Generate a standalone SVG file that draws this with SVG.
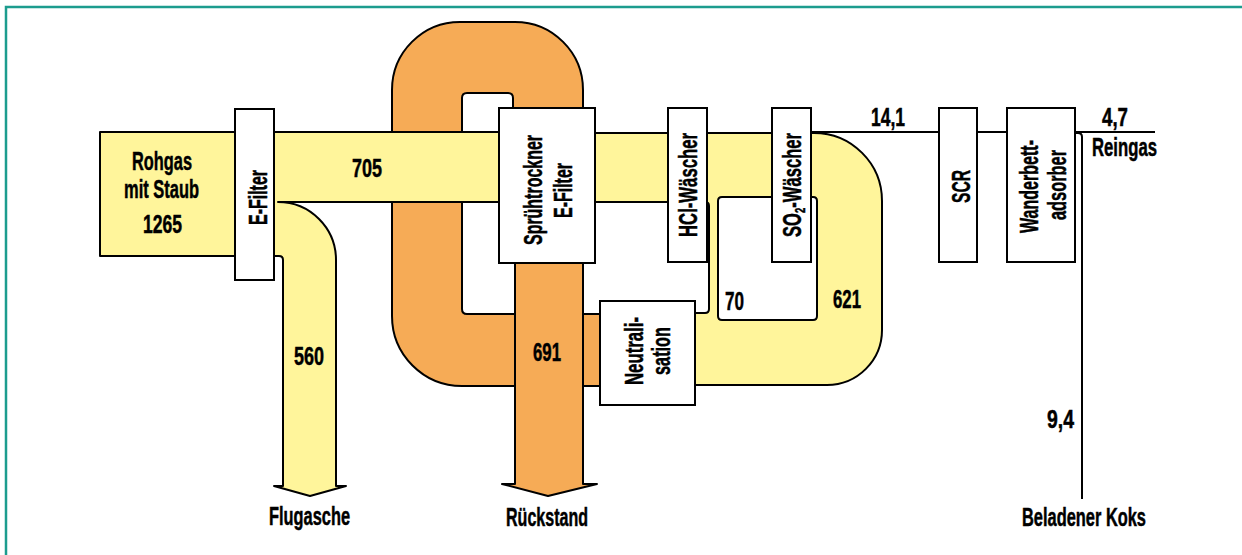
<svg xmlns="http://www.w3.org/2000/svg" width="1242" height="555" viewBox="0 0 1242 555">
<style>
.t{font-family:"Liberation Sans",Arial,sans-serif;font-weight:bold;font-size:26px;fill:#000;stroke:#000;stroke-width:0.5}
.box{fill:#fff;stroke:#000;stroke-width:2}
.y{fill:#FFF59B;stroke:#000;stroke-width:2;stroke-linejoin:round}
.o{fill:#F6AB56;stroke:#000;stroke-width:2;stroke-linejoin:round}
.ln{fill:none;stroke:#000;stroke-width:2}
</style>
<rect width="1242" height="555" fill="#fff"/>
<path d="M1242,7 H6 V555" fill="none" stroke="#1C9C8E" stroke-width="2.5"/>
<g id="connectors">
  <path id="orange-loop" class="o" d="M600,314 H467 Q462,314 462,309 V98 Q462,93 467,93 H508 Q513,93 513,98 V108 H583 V90 A68,68 0 0 0 515,22 H460 A68,68 0 0 0 392,90 V316 A70,70 0 0 0 462,386 H600 Z"/>
  <path id="rueckstand-flow" class="o" d="M515,262 V484 H502 L548,496 L597,484 H583 V262 Z"/>
  <path id="rohgas-flow" class="y" d="M100,132 H502 V202 H278 A58,58 0 0 1 336,260 V486 H346 L310,496 L274,486 H283 V260 Q283,256 279,256 H100 Z"/>
  <path id="gas-flow" class="y" fill-rule="evenodd" d="M590,133 H814 A68,68 0 0 1 882,201 V330 A55,55 0 0 1 827,385 H690 V313 H705 Q709,313 709,309 V206 Q709,202 705,202 H590 Z M718,201 Q718,197 722,197 H813 Q817,197 817,201 V316 Q817,320 813,320 H722 Q718,320 718,316 Z"/>
  <path id="clean-line" class="ln" d="M811,132 H1155"/>
  <path id="koks-line" class="ln" d="M1075,133 H1078 Q1082,133 1082,137 V499"/>
</g>
<g id="rohgas">
  <text class="t" x="132" y="170" textLength="60" lengthAdjust="spacingAndGlyphs">Rohgas</text>
  <text class="t" x="124" y="198" textLength="75" lengthAdjust="spacingAndGlyphs">mit Staub</text>
  <text class="t" x="143" y="233" textLength="39" lengthAdjust="spacingAndGlyphs">1265</text>
</g>
<g id="efilter1">
  <rect class="box" x="235" y="109" width="39" height="171"/>
  <text class="t" transform="translate(267,197.5) rotate(-90)" text-anchor="middle" textLength="55" lengthAdjust="spacingAndGlyphs">E-Filter</text>
</g>
<g id="spruehtrockner">
  <rect class="box" x="499" y="108" width="96" height="155"/>
  <text class="t" transform="translate(542,190) rotate(-90)" text-anchor="middle" textLength="110" lengthAdjust="spacingAndGlyphs">Sprühtrockner</text>
  <text class="t" transform="translate(572,190.5) rotate(-90)" text-anchor="middle" textLength="55" lengthAdjust="spacingAndGlyphs">E-Filter</text>
</g>
<g id="hcl">
  <rect class="box" x="668" y="108" width="39" height="154"/>
  <text class="t" transform="translate(697,185) rotate(-90)" text-anchor="middle" textLength="104" lengthAdjust="spacingAndGlyphs">HCl-Wäscher</text>
</g>
<g id="so2">
  <rect class="box" x="772" y="108" width="39" height="154"/>
  <text class="t" transform="translate(801,185) rotate(-90)" text-anchor="middle" textLength="104" lengthAdjust="spacingAndGlyphs">SO<tspan font-size="15" dy="4">2</tspan><tspan dy="-4">-Wäscher</tspan></text>
</g>
<g id="neutralisation">
  <rect class="box" x="600" y="301" width="95" height="104"/>
  <text class="t" transform="translate(643,351) rotate(-90)" text-anchor="middle" textLength="68" lengthAdjust="spacingAndGlyphs">Neutrali-</text>
  <text class="t" transform="translate(670,351) rotate(-90)" text-anchor="middle" textLength="48" lengthAdjust="spacingAndGlyphs">sation</text>
</g>
<g id="scr">
  <rect class="box" x="939" y="108" width="38" height="154"/>
  <text class="t" transform="translate(970,186.5) rotate(-90)" text-anchor="middle" textLength="33" lengthAdjust="spacingAndGlyphs">SCR</text>
</g>
<g id="wanderbett">
  <rect class="box" x="1007" y="108" width="68" height="154"/>
  <text class="t" transform="translate(1038,186.5) rotate(-90)" text-anchor="middle" textLength="93" lengthAdjust="spacingAndGlyphs">Wanderbett-</text>
  <text class="t" transform="translate(1066,185) rotate(-90)" text-anchor="middle" textLength="70" lengthAdjust="spacingAndGlyphs">adsorber</text>
</g>
<g id="labels">
  <text class="t" x="352" y="177" textLength="30" lengthAdjust="spacingAndGlyphs">705</text>
  <text class="t" x="294" y="365" textLength="30" lengthAdjust="spacingAndGlyphs">560</text>
  <text class="t" x="533" y="361" textLength="28" lengthAdjust="spacingAndGlyphs">691</text>
  <text class="t" x="725" y="310" textLength="19" lengthAdjust="spacingAndGlyphs">70</text>
  <text class="t" x="833" y="308" textLength="28" lengthAdjust="spacingAndGlyphs">621</text>
  <text class="t" x="871" y="126" textLength="34" lengthAdjust="spacingAndGlyphs">14,1</text>
  <text class="t" x="1102" y="126" textLength="26" lengthAdjust="spacingAndGlyphs">4,7</text>
  <text class="t" x="1092" y="156" textLength="65" lengthAdjust="spacingAndGlyphs">Reingas</text>
  <text class="t" x="1047" y="428" textLength="27" lengthAdjust="spacingAndGlyphs">9,4</text>
  <text class="t" x="269" y="525" textLength="81" lengthAdjust="spacingAndGlyphs">Flugasche</text>
  <text class="t" x="506" y="526" textLength="82" lengthAdjust="spacingAndGlyphs">Rückstand</text>
  <text class="t" x="1022" y="526" textLength="124" lengthAdjust="spacingAndGlyphs">Beladener Koks</text>
</g>
</svg>
